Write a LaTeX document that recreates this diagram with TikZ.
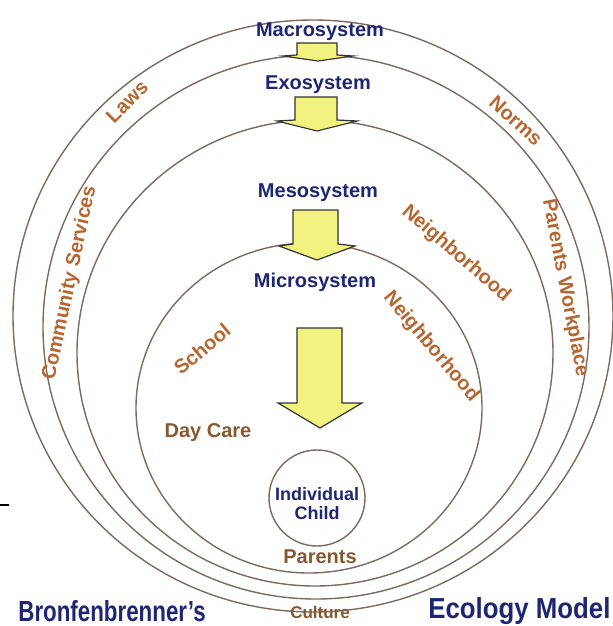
\documentclass[tikz,border=0pt]{standalone}
\usepackage{fontspec}
\setmainfont{Liberation Sans}
\definecolor{ringc}{RGB}{125,105,95}
\definecolor{navy}{RGB}{30,38,115}
\definecolor{ochre}{RGB}{182,102,48}
\definecolor{umber}{RGB}{135,88,48}
\definecolor{lemon}{RGB}{242,242,128}

\begin{document}
\begin{tikzpicture}[x=0.5pt,y=-0.5pt,
    ringline/.style={draw=ringc,line width=0.7pt},
    sysname/.style={text=navy,font=\fontsize{10}{12}\selectfont\bfseries},
    setting/.style={text=ochre,font=\fontsize{10}{12}\selectfont\bfseries},
    heading/.style={text=navy,inner sep=0pt,font=\fontsize{14.5}{16}\selectfont\bfseries},
    yblock/.style={fill=lemon,draw=black!80,line width=0.6pt}]
  \useasboundingbox (0,0) rectangle (613,626);
  % the four systems, outside in
  \draw[ringline] (313,316) ellipse [x radius=300,y radius=296];
  \draw[ringline] (316,327) ellipse [x radius=273,y radius=272];
  \draw[ringline] (315,353) ellipse [x radius=238,y radius=233];
  \draw[ringline] (309,408) ellipse [x radius=173,y radius=165];
  % arrows from one system into the next
  \draw[yblock] (297,43) -- (337,43) -- (337,55) -- (353,56) -- (318,61) -- (283,56) -- (297,55) -- cycle;
  \draw[yblock] (295,97) -- (337,97) -- (337,120) -- (357,121) -- (317,131) -- (277,121) -- (295,120) -- cycle;
  \draw[yblock] (293,210) -- (338,210) -- (338,244) -- (355,246) -- (317,260) -- (279,246) -- (293,244) -- cycle;
  \draw[yblock] (297,328) -- (342,328) -- (342,403) -- (362,403) -- (320,428) -- (278,403) -- (297,403) -- cycle;
  % system names
  \node[sysname] (macro) at (320,32) {Macrosystem};
  \node[sysname] (exo) at (318,85) {Exosystem};
  \node[sysname] (meso) at (318,193) {Mesosystem};
  \node[sysname] (micro) at (315,282) {Microsystem};
  \node[draw=ringc,line width=0.7pt,circle,minimum size=48pt,inner sep=0pt] (child) at (317,498) {};
  \node[sysname,align=center,font=\fontsize{9}{9.5}\selectfont\bfseries] (childtext) at (317,504) {Individual\\Child};
  % settings
  \node[setting,rotate=45] (laws) at (127,102) {Laws};
  \node[setting,rotate=-42] (norms) at (516,121) {Norms};
  \node[setting,rotate=78] (commserv) at (70,283) {Community Services};
  \node[setting,rotate=-79] (workplace) at (565,288) {Parents Workplace};
  \node[setting,rotate=-41] (hoodouter) at (456,254) {Neighborhood};
  \node[setting,rotate=-50] (hoodinner) at (431,347) {Neighborhood};
  \node[setting,rotate=40] (school) at (202,349) {School};
  \node[setting,text=umber] (daycare) at (208,433) {Day Care};
  \node[setting,text=umber] (parents) at (320,557) {Parents};
  \node[setting,text=umber,font=\fontsize{8.5}{10}\selectfont\bfseries] (culture) at (320,612) {Culture};
  % caption
  \node[heading,anchor=west] (bronf) at (18,611) {\scalebox{0.77}[1]{Bronfenbrenner's}};
  \node[heading,anchor=west] (ecol) at (428,611) {\scalebox{0.89}[1]{Ecology Model}};
  \coordinate (tickl) at (0,505);
  \coordinate (tickr) at (9,505);
  \draw[line width=0.8pt] (tickl) -- (tickr);
\end{tikzpicture}
\end{document}
